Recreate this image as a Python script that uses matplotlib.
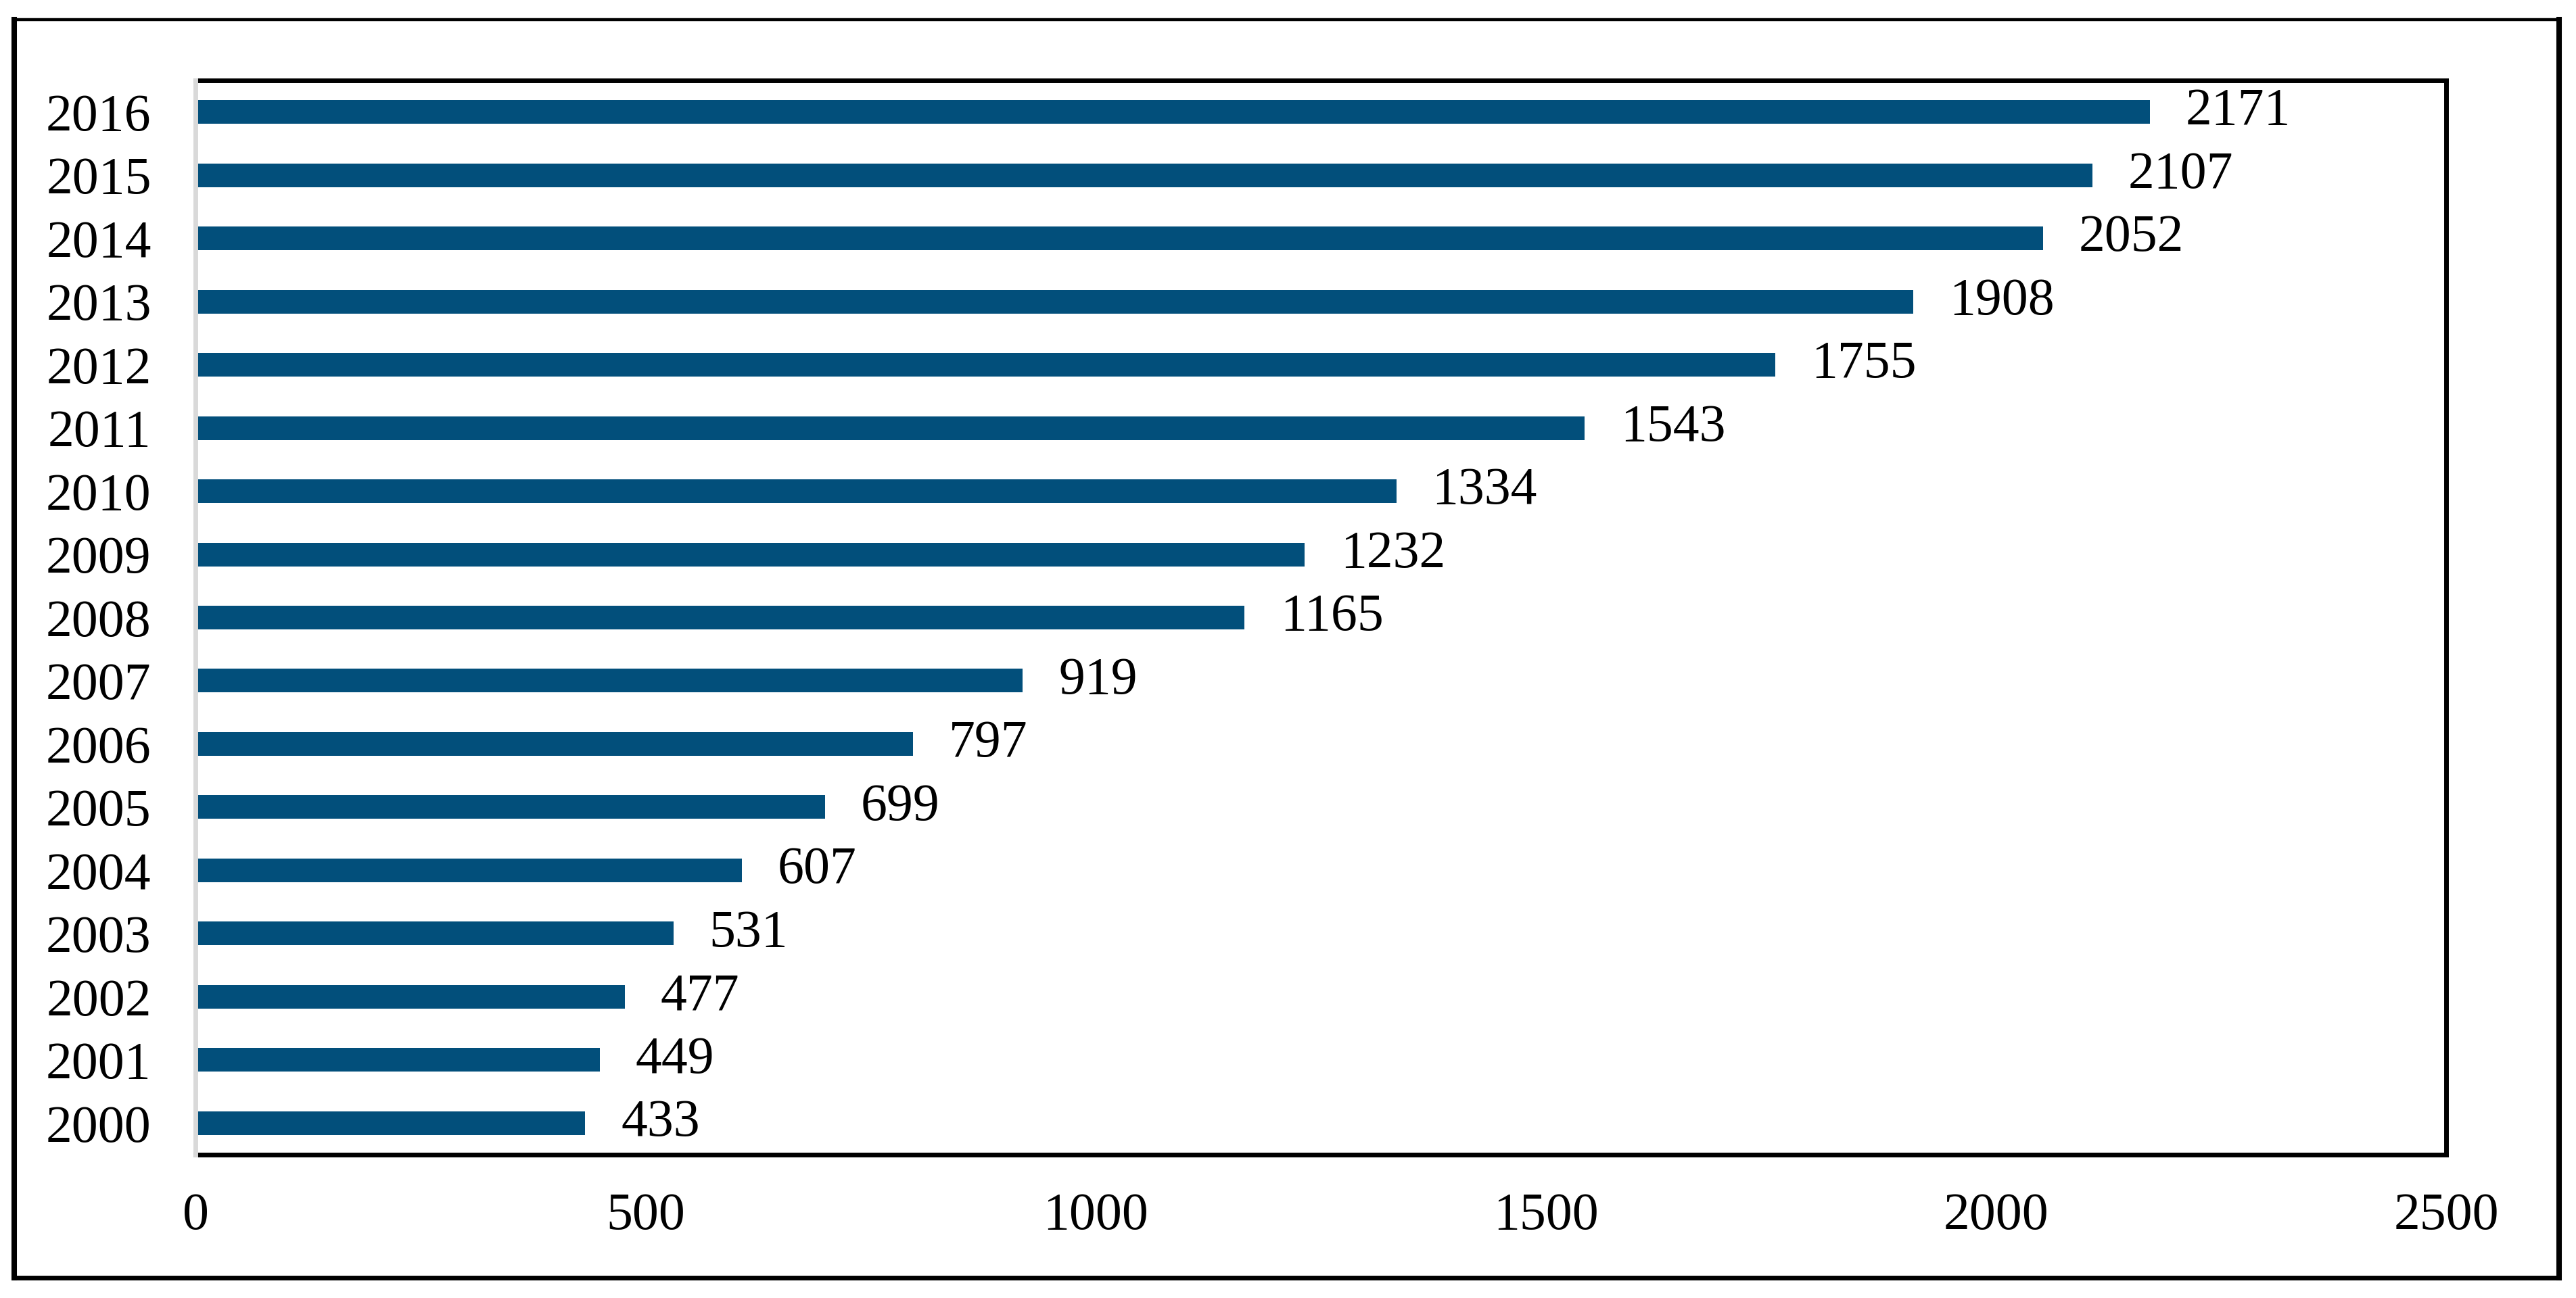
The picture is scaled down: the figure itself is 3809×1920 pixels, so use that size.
import matplotlib
matplotlib.use("Agg")
import matplotlib.pyplot as plt
from matplotlib.lines import Line2D

years = ["2000", "2001", "2002", "2003", "2004", "2005", "2006", "2007", "2008",
         "2009", "2010", "2011", "2012", "2013", "2014", "2015", "2016"]
values = [433, 449, 477, 531, 607, 699, 797, 919, 1165,
          1232, 1334, 1543, 1755, 1908, 2052, 2107, 2171]
xticks = [0, 500, 1000, 1500, 2000, 2500]

W, H, DPI = 3809, 1920, 100
plt.rcParams['font.family'] = ['Liberation Serif', 'DejaVu Serif']
FS = 56

fig = plt.figure(figsize=(W / DPI, H / DPI), dpi=DPI)
fig.patch.set_facecolor('white')

ax = fig.add_axes([289 / W, 1 - 1708 / H, (3617 - 289) / W, (1708 - 119) / H])
pos = list(range(len(years)))
ax.barh(pos, values, height=0.375, color='#024f7b')
ax.set_xlim(0, 2500)
ax.set_ylim(-0.5, len(years) - 0.5)
ax.set_yticks(pos)
ax.set_yticklabels(years)
ax.set_xticks(xticks)
ax.set_xticklabels([str(t) for t in xticks])
ax.tick_params(axis='both', length=0, labelsize=FS)
ax.tick_params(axis='y', pad=47)
ax.tick_params(axis='x', pad=40)

for s in ['top', 'right', 'bottom']:
    ax.spines[s].set_color('black')
    ax.spines[s].set_linewidth(5.0)
ax.spines['left'].set_color('#d9d9d9')
ax.spines['left'].set_linewidth(5.0)
ax.spines['left'].set_zorder(3)

for p, v in zip(pos, values):
    ax.annotate(str(v), xy=(v, p), xytext=(38, 0), textcoords='offset points',
                ha='left', va='center', fontsize=FS)

# outer border (vertical sides drawn slightly thicker than the top, as in the reference)
x0, x1 = 21 / W, 3784 / W
y_top, y_bot = 1 - 29 / H, 1 - 1889.5 / H
def fline(xs, ys, lw):
    fig.lines.append(Line2D(xs, ys, transform=fig.transFigure, color='black',
                            linewidth=lw, solid_capstyle='projecting', zorder=10))
fline([x0, x1], [y_top, y_top], 3.2)
fline([x0, x1], [y_bot, y_bot], 5.0)
fline([x0, x0], [y_bot, y_top], 5.8)
fline([x1, x1], [y_bot, y_top], 5.8)

fig.savefig('out.png', dpi=DPI, facecolor='white')
